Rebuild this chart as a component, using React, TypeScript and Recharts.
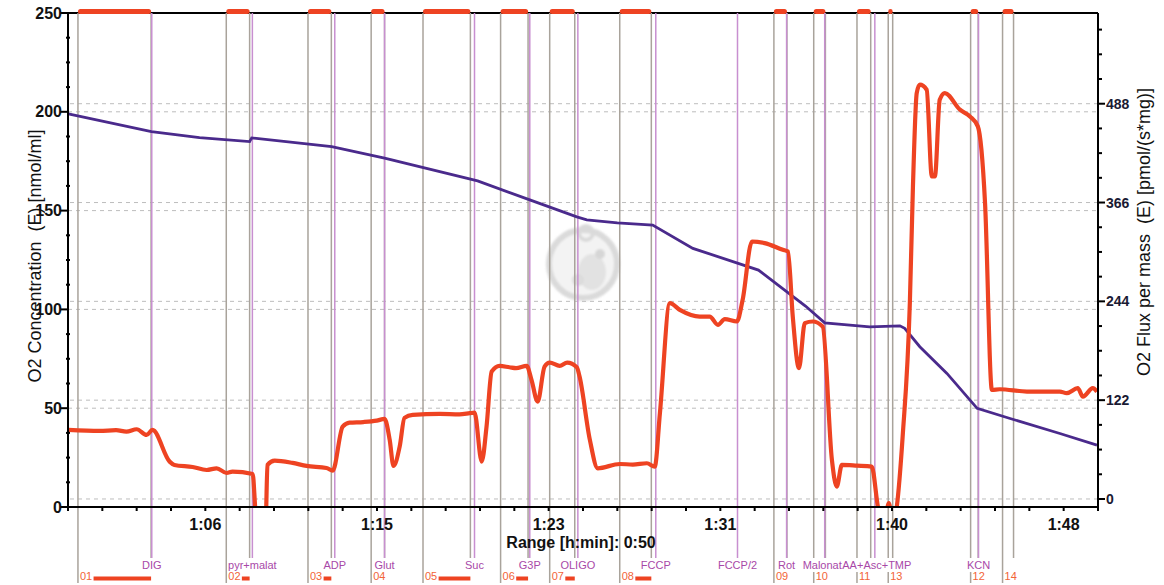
import { LineChart, Line, XAxis, YAxis, ReferenceLine, ReferenceArea } from 'recharts'

// time in seconds since start of the run, O2 concentration in nmol/ml
const concTimes = [3601, 3843, 3983, 4129, 4135, 4368, 4522, 4793, 4945, 5082, 5111, 5200, 5303, 5420, 5611, 5748, 5804, 5935, 6023, 6037, 6081, 6160, 6248, 6344, 6489, 6597]
const concValues = [199.0, 190.0, 186.9, 184.9, 186.8, 182.4, 176.5, 165.0, 155.4, 146.8, 145.3, 143.8, 142.7, 130.9, 119.9, 101.7, 93.2, 91.2, 91.7, 90.4, 81.1, 67.6, 49.9, 44.8, 37.2, 31.3]

// O2 flux per mass in pmol/(s*mg)
const fluxTimes = [
  3601, 3692, 3740, 3770, 3800, 3829, 3846, 3896, 3910, 3963, 4004, 4033, 4062, 4079, 4138, 4146, 4160, 4175,
  4181, 4202, 4254, 4295, 4353, 4371, 4400, 4420, 4460, 4499, 4522, 4537, 4548, 4566, 4580, 4604, 4683, 4740,
  4770, 4784, 4805, 4819, 4834, 4857, 4886, 4905, 4936, 4950, 4968, 4988, 5003, 5032, 5054, 5082, 5090, 5120,
  5143, 5207, 5245, 5286, 5309, 5324, 5353, 5382, 5440, 5469, 5493, 5513, 5548, 5565, 5592, 5629, 5682, 5697,
  5711, 5729, 5746, 5769, 5798, 5825, 5839, 5854, 5898, 5941, 5959, 5975, 5991, 6003, 6014, 6031, 6052, 6061,
  6072, 6081, 6101, 6116, 6125, 6139, 6154, 6198, 6227, 6250, 6271, 6291, 6314, 6393, 6489, 6509, 6541, 6556,
  6585, 6597,
]
const fluxValues = [
  85.2, 84.0, 85.0, 83.1, 86.1, 79.1, 85.2, 46.1, 42.0, 39.5, 35.8, 37.9, 32.1, 33.7, 30.9, -14, -40, -40,
  42.0, 47.3, 44.5, 40.8, 38.3, 35.0, 89.3, 94.3, 95.0, 96.7, 98.8, 72.9, 40.8, 64.6, 100.1, 103.8, 105.0, 104.5,
  105.9, 106.6, 46.1, 89.3, 157.3, 164.3, 162.6, 161.5, 164.3, 147.0, 120.2, 163.5, 168.4, 164.3, 168.4, 162.7, 151.1, 72.9,
  37.9, 43.2, 42.5, 44.1, 39.9, 105.9, 241.8, 233.5, 225.2, 225.2, 215.0, 222.0, 219.1, 245.9, 317.9, 315.9, 307.6, 305.5,
  225.2, 161.5, 217.1, 219.1, 212.9, 48.2, 15.2, 42.0, 41.1, 39.9, -9.5, -35, -5, -35, -9.5, 77.0, 242.2, 385.8,
  501.2, 511.5, 505.3, 398.2, 398.2, 493.0, 501.2, 480.6, 472.3, 460.0, 365.3, 134.7, 135.5, 132.6, 132.6, 130.6, 136.8, 126.4,
  136.8, 132.6,
]

// titration events
const eventTimes = [3844, 4137, 4377, 4522, 4784, 4945, 5085, 5312, 5550, 5693, 5804, 5950, 6252]
const eventNames = ['DIG', 'pyr+malat', 'ADP', 'Glut', 'Suc', 'G3P', 'OLIGO', 'FCCP', 'FCCP/2', 'Rot', 'Malonat', 'AA+Asc+TMP', 'KCN']

// marked sections
const markNames = ['01', '02', '03', '04', '05', '06', '07', '08', '09', '10', '11', '13', '12', '14']
const markStarts = [3629, 4061, 4299, 4483, 4634, 4860, 5003, 5207, 5656, 5772, 5898, 5989, 6229, 6322]
const markEnds = [3842, 4129, 4367, 4522, 4772, 4940, 5076, 5299, 5694, 5806, 5938, 6002, 6251, 6354]

const timeLabelTicks = [4000, 4500, 5000, 5500, 6000, 6500]
const concLabelTicks = [0, 50, 100, 150, 200, 250]
const fluxLabelTicks = [0, 122, 244, 366, 488]

const timeTicks = Array.from({ length: 31 }, (_, i) => 3600 + i * 100)
const concTicks = Array.from({ length: 21 }, (_, i) => i * 12.5)
const fluxTicks = Array.from({ length: 20 }, (_, i) => i * 30.5)

const concData = concTimes.map((t, i) => ({ t, v: concValues[i] }))
const fluxData = fluxTimes.map((t, i) => ({ t, v: fluxValues[i] }))

const FONT = "'Liberation Sans', Arial, sans-serif"
const RED = '#ee4322'
const BLUE = '#4a2a8c'
const GRAY_LINE = '#a9a39b'
const PURPLE_LINE = '#c88fd0'
const PURPLE_TEXT = '#a848a8'
const ORANGE_TEXT = '#f26437'
const GRID = '#bdbdbd'

// neighbouring event labels that would run into each other
const labelNudge: Record<string, number> = { Malonat: -2.5, 'AA+Asc+TMP': 2 }

const glyphW = (c: string) => {
  if ('ilI'.includes(c)) return 0.25
  if ('tfj/[]():'.includes(c)) return 0.3
  if (c === 'r') return 0.33
  if ('mMW'.includes(c)) return 0.85
  if (c === '+') return 0.58
  if (/[A-Z]/.test(c)) return 0.7
  return 0.55
}
const textWidth = (s: string, size: number) => s.split('').reduce((a, c) => a + glyphW(c), 0) * size

const fmtTime = (t: number) => {
  const h = Math.floor(t / 3600)
  const m = Math.floor((t % 3600) / 60)
  return `${h}:${String(m).padStart(2, '0')}`
}

function TimeTick({ x, y, payload }: any) {
  const major = timeLabelTicks.includes(payload.value)
  return (
    <g>
      <line x1={x} x2={x} y1={y} y2={y + 4} stroke="#000" strokeWidth={2} />
      {major && (
        <text x={x} y={y + 22.5} textAnchor="middle" fontFamily={FONT} fontWeight="bold" fontSize={16} fill="#111">
          {fmtTime(payload.value)}
        </text>
      )}
    </g>
  )
}

function ConcTick({ x, y, payload }: any) {
  const major = concLabelTicks.includes(payload.value)
  return (
    <g>
      <line x1={major ? x - 8 : x - 2} x2={major ? x : x + 2} y1={y} y2={y} stroke="#000" strokeWidth={2} />
      {major && (
        <text x={x - 6} y={y} textAnchor="end" dominantBaseline="central" fontFamily={FONT} fontWeight="bold" fontSize={16} fill="#111">
          {payload.value}
        </text>
      )}
    </g>
  )
}

function FluxTick({ x, y, payload }: any) {
  const major = fluxLabelTicks.includes(payload.value)
  return (
    <g>
      <line x1={x} x2={major ? x + 7 : x + 4} y1={y} y2={y} stroke="#000" strokeWidth={2} />
      {major && (
        <text x={x + 8} y={y} dominantBaseline="central" fontFamily={FONT} fontWeight="bold" fontSize={14} fill="#1a1a33">
          {payload.value}
        </text>
      )}
    </g>
  )
}

// start/end lines of a marked section, bar on top, label and bar below the axis
const markShape = (name: string) => (p: any) => {
  const { x, y, width, height } = p
  const base = y + height
  const barStart = x + 2 + textWidth(name, 11) + 1.5
  const barEnd = x + width
  return (
    <g>
      <line x1={x} x2={x} y1={y} y2={base + 76} stroke={GRAY_LINE} strokeWidth={1.5} />
      <line x1={x + width} x2={x + width} y1={y} y2={base + 51} stroke={GRAY_LINE} strokeWidth={1.5} />
      <rect x={x} y={y - 4} width={width} height={5} rx={2.5} fill={RED} />
      {barEnd > barStart && <rect x={barStart} y={base + 69.5} width={barEnd - barStart} height={4} fill={RED} />}
      <text x={x + 2} y={base + 72.5} fontFamily={FONT} fontSize={11} fill={ORANGE_TEXT}>{name}</text>
    </g>
  )
}

const eventLineShape = (name: string) => (p: any) => {
  const x = p.x1
  const top = Math.min(p.y1, p.y2)
  const bottom = Math.max(p.y1, p.y2)
  const w = textWidth(name, 11)
  const cx = x + (labelNudge[name] ?? 0)
  return (
    <g>
      <line x1={x} x2={x} y1={top} y2={bottom + 51} stroke={PURPLE_LINE} strokeWidth={1.5} />
      <rect x={cx - w / 2} y={bottom + 51} width={w} height={14} fill="#fff" />
    </g>
  )
}

const eventTextShape = (name: string) => (p: any) => {
  const bottom = Math.max(p.y1, p.y2)
  return (
    <text
      x={p.x1 + (labelNudge[name] ?? 0)}
      y={bottom + 61.8}
      textAnchor="middle"
      fontFamily={FONT}
      fontSize={11}
      fill={PURPLE_TEXT}
    >
      {name}
    </text>
  )
}

export default function App() {
  return (
    <div style={{ position: 'relative', width: 1164, height: 585, background: '#fff', fontFamily: FONT }}>
      <style>{'body{margin:0}'}</style>
      <svg width={1164} height={585} style={{ position: 'absolute', left: 0, top: 0 }}>
        <defs>
          <filter id="soft">
            <feGaussianBlur stdDeviation={1.2} />
          </filter>
        </defs>
        <g filter="url(#soft)" opacity={0.85}>
          <circle cx={583} cy={264} r={34} fill="#f2f2f2" stroke="#d4d4d4" strokeWidth={6} />
          <circle cx={586} cy={233} r={7} fill="none" stroke="#d4d4d4" strokeWidth={4} />
          <ellipse cx={592} cy={272} rx={14} ry={18} fill="#dedede" />
          <circle cx={600} cy={254} r={5} fill="#d0d0d0" />
          <circle cx={578} cy={280} r={6} fill="#d6d6d6" />
        </g>
      </svg>
      <div style={{ position: 'absolute', left: 0, top: 0 }}>
        <LineChart width={1164} height={585} margin={{ top: 13, right: 0, bottom: 0, left: 0 }}>
          <XAxis
            dataKey="t"
            type="number"
            domain={[3600, 6600]}
            ticks={timeTicks}
            interval={0}
            allowDataOverflow
            height={78}
            axisLine={{ stroke: '#000', strokeWidth: 2 }}
            tickLine={false}
            tickSize={0}
            tickMargin={0}
            tick={<TimeTick />}
          />
          <YAxis
            yAxisId="left"
            orientation="left"
            type="number"
            domain={[0, 250]}
            ticks={concTicks}
            interval={0}
            allowDataOverflow
            width={68}
            axisLine={{ stroke: '#000', strokeWidth: 2 }}
            tickLine={false}
            tickSize={0}
            tickMargin={0}
            tick={<ConcTick />}
          />
          <YAxis
            yAxisId="right"
            orientation="right"
            type="number"
            domain={[-9.9, 600]}
            ticks={fluxTicks}
            interval={0}
            allowDataOverflow
            width={66}
            axisLine={{ stroke: '#000', strokeWidth: 2 }}
            tickLine={false}
            tickSize={0}
            tickMargin={0}
            tick={<FluxTick />}
          />

          {concLabelTicks.slice(1, 5).map((v) => (
            <ReferenceLine key={`gl${v}`} yAxisId="left" y={v} stroke={GRID} strokeDasharray="4 4" strokeWidth={1} zIndex={1} />
          ))}
          {fluxLabelTicks.map((v) => (
            <ReferenceLine key={`gr${v}`} yAxisId="right" y={v} stroke={GRID} strokeDasharray="4 4" strokeWidth={1} zIndex={1} />
          ))}
          <ReferenceLine yAxisId="left" y={250} stroke="#000" strokeWidth={2} zIndex={5} />

          {markNames.map((name, i) => (
            <ReferenceArea
              key={`m${name}`}
              yAxisId="left"
              x1={markStarts[i]}
              x2={markEnds[i]}
              ifOverflow="visible"
              shape={markShape(name)}
              zIndex={10}
            />
          ))}
          {eventNames.map((name, i) => (
            <ReferenceLine key={`e${name}`} yAxisId="left" x={eventTimes[i]} shape={eventLineShape(name)} zIndex={20} />
          ))}
          {eventNames.map((name, i) => (
            <ReferenceLine key={`et${name}`} yAxisId="left" x={eventTimes[i]} shape={eventTextShape(name)} zIndex={30} />
          ))}

          <Line
            yAxisId="left"
            data={concData}
            dataKey="v"
            type="linear"
            stroke={BLUE}
            strokeWidth={2.8}
            dot={false}
            isAnimationActive={false}
          />
          <Line
            yAxisId="right"
            data={fluxData}
            dataKey="v"
            type="monotone"
            stroke={RED}
            strokeWidth={4.2}
            dot={false}
            isAnimationActive={false}
          />
        </LineChart>
      </div>
      <svg width={1164} height={585} style={{ position: 'absolute', left: 0, top: 0, pointerEvents: 'none' }}>
        <text
          transform="translate(35,256) rotate(-90)"
          textAnchor="middle"
          dominantBaseline="central"
          fontFamily={FONT}
          fontSize={18}
          fill="#111"
        >
          {'O2 Concentration \u00a0(E) [nmol/ml]'}
        </text>
        <text
          transform="translate(1144,232) rotate(-90)"
          textAnchor="middle"
          dominantBaseline="central"
          fontFamily={FONT}
          fontSize={18}
          fill="#111"
        >
          {'O2 Flux per mass \u00a0(E) [pmol/(s*mg)]'}
        </text>
        <text x={581} y={548} textAnchor="middle" fontFamily={FONT} fontWeight="bold" fontSize={16} fill="#111">
          Range [h:min]: 0:50
        </text>
      </svg>
    </div>
  )
}
